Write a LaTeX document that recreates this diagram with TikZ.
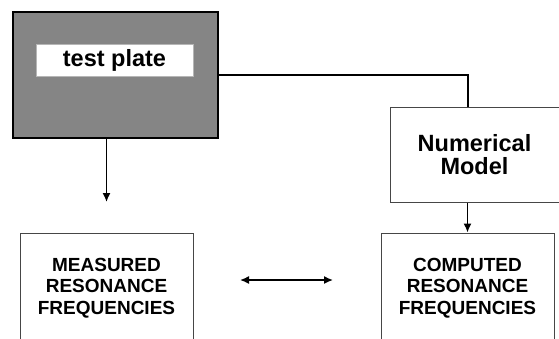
\documentclass[tikz,border=0pt]{standalone}
\usepackage{fontspec}
\setmainfont{Liberation Sans}
\usetikzlibrary{arrows.meta}
\definecolor{plategray}{RGB}{133,133,133}
\definecolor{boxline}{RGB}{70,70,70}
\tikzset{
  platebox/.style={draw=black, line width=2pt, fill=plategray, minimum width=205pt, minimum height=126pt},
  tagbox/.style={fill=white, draw=plategray!60, minimum width=157pt, minimum height=32pt,
    font=\fontsize{23.5}{24}\selectfont\bfseries},
  modelbox/.style={draw=boxline, line width=1pt, fill=white, minimum width=169pt, minimum height=95pt,
    align=center, font=\fontsize{23.5}{23.5}\selectfont\bfseries},
  freqbox/.style={draw=boxline, line width=1pt, fill=white, minimum width=173pt, minimum height=110pt,
    align=center, font=\fontsize{19}{21.5}\selectfont\bfseries},
  link/.style={line width=1.5pt},
  tip/.style={Latex[length=9pt,width=8pt]},
  arr/.style={link, -{Latex[length=9pt,width=8pt]}},
}

\begin{document}
\begin{tikzpicture}[x=1pt,y=-1pt]
  \clip (0,0) rectangle (559,338);
  \fill[white] (0,0) rectangle (559,338);

  \node (plate) [platebox] at (115.5,75) {};
  \node (tag) [tagbox] at (114.5,60) {test plate};
  \node (model) [modelbox] at (474.5,154.5) {Numerical\\Model};
  \node (measured) [freqbox] at (106.5,288) {MEASURED\\RESONANCE\\FREQUENCIES};
  \node (computed) [freqbox] at (467.5,288) {COMPUTED\\RESONANCE\\FREQUENCIES};

  \coordinate (bend) at (468,75);
  \coordinate (mtip) at (106.5,202);
  \coordinate (cmpl) at (240,280);
  \coordinate (cmpr) at (333,280);

  \draw[link] (plate.east) -- (bend) -- (bend |- model.north);
  \draw[arr] (mtip |- plate.south) -- (mtip);
  \draw[arr] (computed.north |- model.south) -- (computed.north);
  \draw[link, {Latex[length=9pt,width=8pt]}-{Latex[length=9pt,width=8pt]}] (cmpl) -- (cmpr);
\end{tikzpicture}
\end{document}
